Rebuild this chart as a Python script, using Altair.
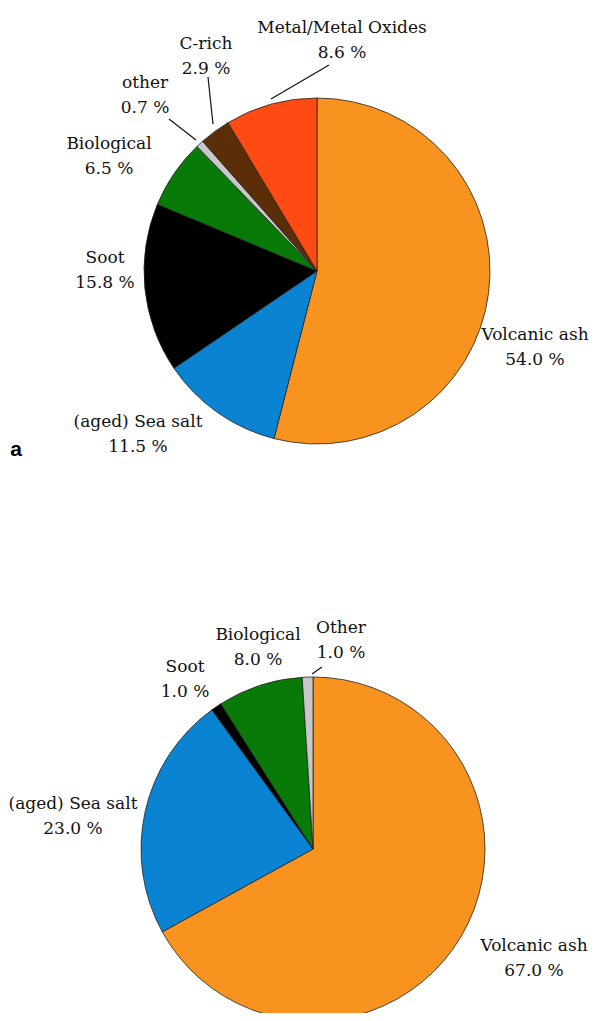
import altair as alt
import pandas as pd

# ---------------- data ----------------
top_cats = ["Volcanic ash", "(aged) Sea salt", "Soot", "Biological", "other", "C-rich", "Metal/Metal Oxides"]
top_vals = [54.0, 11.5, 15.8, 6.5, 0.7, 2.9, 8.6]
top_keys = ["ash", "salt", "soot", "bio", "other", "crich", "metal"]

bot_cats = ["Volcanic ash", "(aged) Sea salt", "Soot", "Biological", "Other"]
bot_vals = [67.0, 23.0, 1.0, 8.0, 1.0]
bot_keys = ["ash", "salt", "soot", "bio", "other"]

# colours per component
color_keys = ["ash", "salt", "soot", "bio", "other", "crich", "metal"]
color_vals = ["#F7931E", "#0A84D2", "#000000", "#087A08", "#C8C8C8", "#5C2E08", "#FF4A14"]

# label anchor positions (layout, in pixels; y = first line centre)
top_lab_x = [527, 130, 97, 101, 137, 198, 334]
top_lab_y = [327, 414, 250, 136, 75, 36, 20]
bot_lab_x = [526, 65, 177, 250, 333]
bot_lab_y = [938, 796, 659, 627, 620]

# leader lines (layout, in pixels)
lead_x = [263, 205, 188, 304]
lead_y = [91, 116, 132, 666]
lead_x2 = [321, 200, 161, 314]
lead_y2 = [57, 69, 111, 659]

FONT = "DejaVu Serif"

top_df = pd.DataFrame({"cat": top_cats, "value": top_vals, "key": top_keys,
                       "idx": list(range(len(top_cats)))})
bot_df = pd.DataFrame({"cat": bot_cats, "value": bot_vals, "key": bot_keys,
                       "idx": list(range(len(bot_cats)))})

def labels(cats, vals, xs, ys):
    return pd.DataFrame({
        "text": [f"{c}\n{v:.1f} %" for c, v in zip(cats, vals)],
        "lx": xs, "ly": ys,
    })

lab_df = pd.concat([labels(top_cats, top_vals, top_lab_x, top_lab_y),
                    labels(bot_cats, bot_vals, bot_lab_x, bot_lab_y)], ignore_index=True)
lead_df = pd.DataFrame({"x": lead_x, "y": lead_y, "x2": lead_x2, "y2": lead_y2})

color = alt.Color("key:N", scale=alt.Scale(domain=color_keys, range=color_vals), legend=None)

def pie(df, cx, cy, r):
    return alt.Chart(df).mark_arc(outerRadius=r, stroke="#222222", strokeWidth=0.8).encode(
        theta=alt.Theta("value:Q", stack=True),
        order=alt.Order("idx:Q"),
        color=color,
        x=alt.value(cx),
        y=alt.value(cy),
    )

top_pie = pie(top_df, 309, 263, 173)
bot_pie = pie(bot_df, 305, 841, 172)

text = alt.Chart(lab_df).mark_text(
    font=FONT, fontSize=17, lineBreak="\n", lineHeight=25,
    align="center", baseline="middle", color="#111111"
).encode(
    x=alt.X("lx:Q", scale=None),
    y=alt.Y("ly:Q", scale=None),
    text="text:N",
)

leads = alt.Chart(lead_df).mark_rule(color="#111111", strokeWidth=1.2).encode(
    x=alt.X("x:Q", scale=None), y=alt.Y("y:Q", scale=None),
    x2="x2:Q", y2="y2:Q",
)

panel_label = alt.Chart(pd.DataFrame({"t": ["a"]})).mark_text(
    font="Liberation Sans", fontSize=21, fontWeight="bold", align="center",
    baseline="middle", color="#000000"
).encode(x=alt.value(8), y=alt.value(442), text="t:N")

chart = alt.layer(top_pie, bot_pie, leads, text, panel_label).properties(
    width=585, height=1005, autosize="none", padding=0
).configure_view(stroke=None)

chart.save("out.html", embed_options={"renderer": "svg", "actions": False})
